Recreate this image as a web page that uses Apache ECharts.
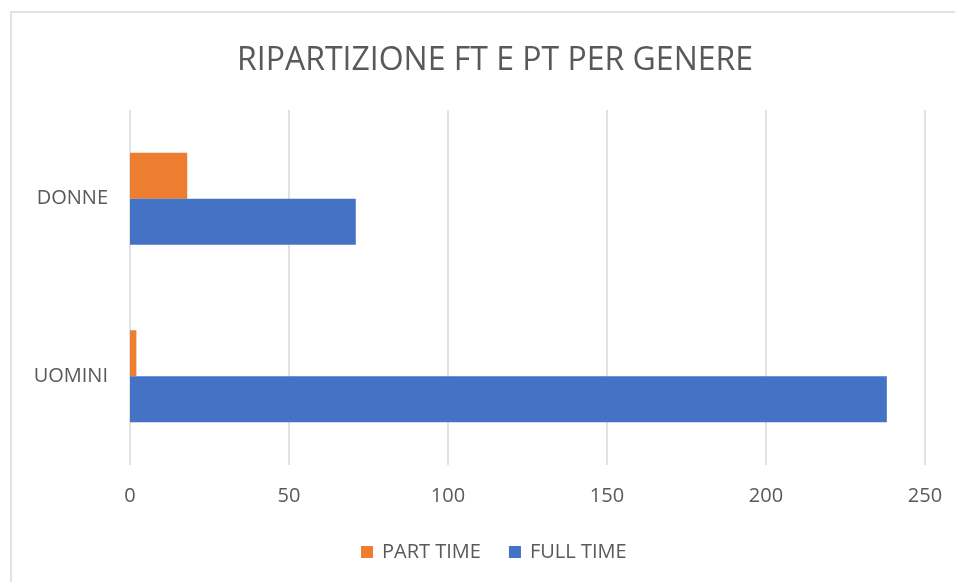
<!DOCTYPE html>
<html>
<head>
<meta charset="utf-8">
<script src="https://cdn.jsdelivr.net/npm/echarts@6/dist/echarts.min.js"></script>
<style>
  html, body { margin: 0; padding: 0; background: #ffffff; }
  #chart { width: 955px; height: 582px; }
</style>
</head>
<body>
<div id="chart"></div>
<script>
var categories = ['UOMINI', 'DONNE'];
var partTime = [2, 18];
var fullTime = [238, 71];
var xTicks = [0, 50, 100, 150, 200, 250];

var chart = echarts.init(document.getElementById('chart'));
var font = 'Open Sans';
var option = {
    animation: false,
    backgroundColor: '#ffffff',
    graphic: [{
        type: 'rect',
        shape: { x: 11, y: 12, width: 960, height: 600 },
        style: { fill: 'none', stroke: '#d9d9d9', lineWidth: 1.5 },
        silent: true
    }],
    title: {
        text: 'RIPARTIZIONE FT E PT PER GENERE',
        left: 490,
        top: 40,
        textAlign: 'center',
        textStyle: {
            fontFamily: font,
            fontSize: 32,
            fontWeight: 'normal',
            color: '#595959'
        }
    },
    legend: {
        data: ['PART TIME', 'FULL TIME'],
        left: 356,
        top: 537,
        itemWidth: 12,
        itemHeight: 12,
        itemGap: 28,
        icon: 'rect',
        textStyle: { fontFamily: font, fontSize: 20, color: '#595959', padding: [0, 0, 0, 4] }
    },
    grid: {
        left: 130,
        right: 30,
        top: 110,
        bottom: 117,
        containLabel: false
    },
    xAxis: {
        type: 'value',
        min: xTicks[0],
        max: xTicks[xTicks.length - 1],
        interval: 50,
        axisLine: { show: false },
        axisTick: { show: false },
        axisLabel: {
            margin: 21,
            fontFamily: font,
            fontSize: 20,
            color: '#595959'
        },
        splitLine: { lineStyle: { color: '#d9d9d9', width: 1.5 } }
    },
    yAxis: {
        type: 'category',
        data: categories,
        axisLine: { show: false },
        axisTick: { show: false },
        axisLabel: {
            margin: 22,
            fontFamily: font,
            fontSize: 20,
            color: '#595959'
        }
    },
    series: [{
        name: 'PART TIME',
        type: 'bar',
        data: partTime,
        barWidth: 46,
        barGap: '0%',
        itemStyle: { color: '#ED7D31' }
    }, {
        name: 'FULL TIME',
        type: 'bar',
        data: fullTime,
        barWidth: 46,
        barGap: '0%',
        itemStyle: { color: '#4472C4' }
    }]
};
chart.setOption(option);
</script>
</body>
</html>
